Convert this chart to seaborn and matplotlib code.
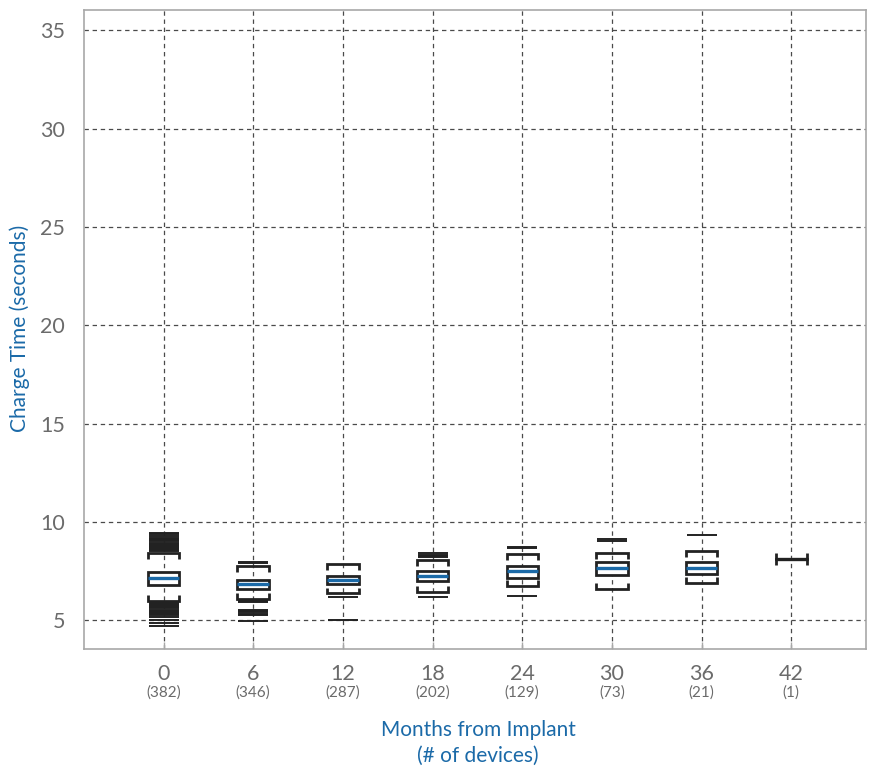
import matplotlib
matplotlib.use("Agg")
import matplotlib.pyplot as plt
import matplotlib.transforms as mtransforms
import pandas as pd
import seaborn as sns

# Charge time distribution by follow-up interval
months = [0, 6, 12, 18, 24, 30, 36, 42]
devices = [382, 346, 287, 202, 129, 73, 21, 1]

q1 = [6.78, 6.61, 6.83, 6.98, 7.17, 7.30, 7.36, 8.10]
median = [7.16, 6.84, 7.04, 7.26, 7.48, 7.66, 7.68, 8.10]
q3 = [7.46, 7.04, 7.24, 7.52, 7.75, 7.97, 7.97, 8.10]
lower_cap = [6.00, 6.08, 6.36, 6.44, 6.76, 6.60, 6.88, 8.10]
upper_cap = [8.40, 7.75, 7.86, 8.06, 8.38, 8.43, 8.50, 8.10]

outliers_high = [
    [8.53, 8.58, 8.63, 8.68, 8.73, 8.78, 8.84, 8.89, 8.95, 9.01, 9.06,
     9.11, 9.16, 9.28, 9.37, 9.45],
    [7.92, 7.97],
    [],
    [8.22, 8.28, 8.34, 8.40],
    [8.66, 8.71],
    [9.02, 9.13],
    [9.32],
    [],
]
outliers_low = [
    [5.94, 5.88, 5.83, 5.77, 5.71, 5.66, 5.60, 5.54, 5.48, 5.43, 5.37,
     5.31, 5.26, 5.14, 5.00, 4.86, 4.73],
    [6.02, 5.96, 5.91, 5.52, 5.46, 5.40, 5.34, 5.29, 4.97],
    [6.20, 5.02],
    [6.16],
    [6.22],
    [],
    [],
    [],
]

BLACK = "#222222"
BLUE = "#1b6aa8"
GRAY = "#6b6b6b"

sns.set_theme(style="whitegrid")
plt.rcParams["font.family"] = ["Lato", "DejaVu Sans"]

fig = plt.figure(figsize=(8.69, 7.71), dpi=100)
ax = fig.add_axes([0.097, 0.1586, 0.8995, 0.8288])
ax.set_facecolor("white")

box_w = 2.1
tick_len = 0.3

# Boxes (quartiles + median)
stats = [
    dict(med=m, q1=a, q3=b, whislo=lo, whishi=hi, fliers=[])
    for m, a, b, lo, hi in zip(median, q1, q3, lower_cap, upper_cap)
]
bp = ax.bxp(
    stats, positions=months, widths=box_w, patch_artist=True,
    showcaps=False, showfliers=False,
    boxprops=dict(facecolor="white", edgecolor=BLACK, linewidth=2.0),
    medianprops=dict(color=BLUE, linewidth=2.4),
    whiskerprops=dict(linewidth=0),
    zorder=3,
)
for med_line, n in zip(bp["medians"], devices):
    if n == 1:
        med_line.set_color(BLACK)

# Bracket-shaped caps pointing toward the box
for x, lo, hi in zip(months, lower_cap, upper_cap):
    left, right = x - box_w / 2, x + box_w / 2
    ax.plot([left, left, right, right],
            [hi - tick_len, hi, hi, hi - tick_len],
            color=BLACK, lw=2.0, solid_capstyle="butt",
            solid_joinstyle="miter", zorder=3)
    ax.plot([left, left, right, right],
            [lo + tick_len, lo, lo, lo + tick_len],
            color=BLACK, lw=2.0, solid_capstyle="butt",
            solid_joinstyle="miter", zorder=3)

# Outlying readings drawn as short horizontal dashes
rows = []
for x, hi_vals, lo_vals in zip(months, outliers_high, outliers_low):
    for v in hi_vals + lo_vals:
        rows.append({"month": x, "charge": v})
fliers = pd.DataFrame(rows)
sns.scatterplot(data=fliers, x="month", y="charge", marker="_", s=490,
                color=BLACK, edgecolor=BLACK, linewidth=1.4, ax=ax,
                zorder=3, legend=False)

# Axes, grid and ticks
ax.set_xlim(-5.3, 47.0)
ax.set_ylim(3.55, 36.05)
ax.set_yticks([5, 10, 15, 20, 25, 30, 35])
ax.set_xticks(months)
ax.set_xticklabels([str(m) for m in months])
ax.grid(True, color="#4a4a4a", linestyle=(0, (3.5, 3)), linewidth=0.9)
ax.set_axisbelow(True)
for sp in ax.spines.values():
    sp.set_visible(True)
    sp.set_color("#a8a8a8")
    sp.set_linewidth(1.2)
ax.tick_params(axis="y", length=0, pad=14, labelsize=15.5, labelcolor=GRAY)
ax.tick_params(axis="x", direction="in", length=5, width=1, color="#a8a8a8",
               pad=11, labelsize=15.5, labelcolor=GRAY, bottom=True)
ax.set_xlabel("")
ax.set_ylabel("")

# Device counts under each month label
trans = mtransforms.blended_transform_factory(ax.transData, ax.transAxes)
for x, n in zip(months, devices):
    ax.text(x, -0.069, f"({n})", transform=trans, ha="center", va="center",
            fontsize=11, color=GRAY)

fig.text(478 / 869, 1 - 743 / 771, "Months from Implant\n(# of devices)",
         ha="center", va="center", fontsize=15, color=BLUE, linespacing=1.35)
fig.text(20 / 869, 1 - 328 / 771, "Charge Time (seconds)", rotation=90,
         ha="center", va="center", fontsize=15, color=BLUE)

fig.savefig("out.png", dpi=100)
